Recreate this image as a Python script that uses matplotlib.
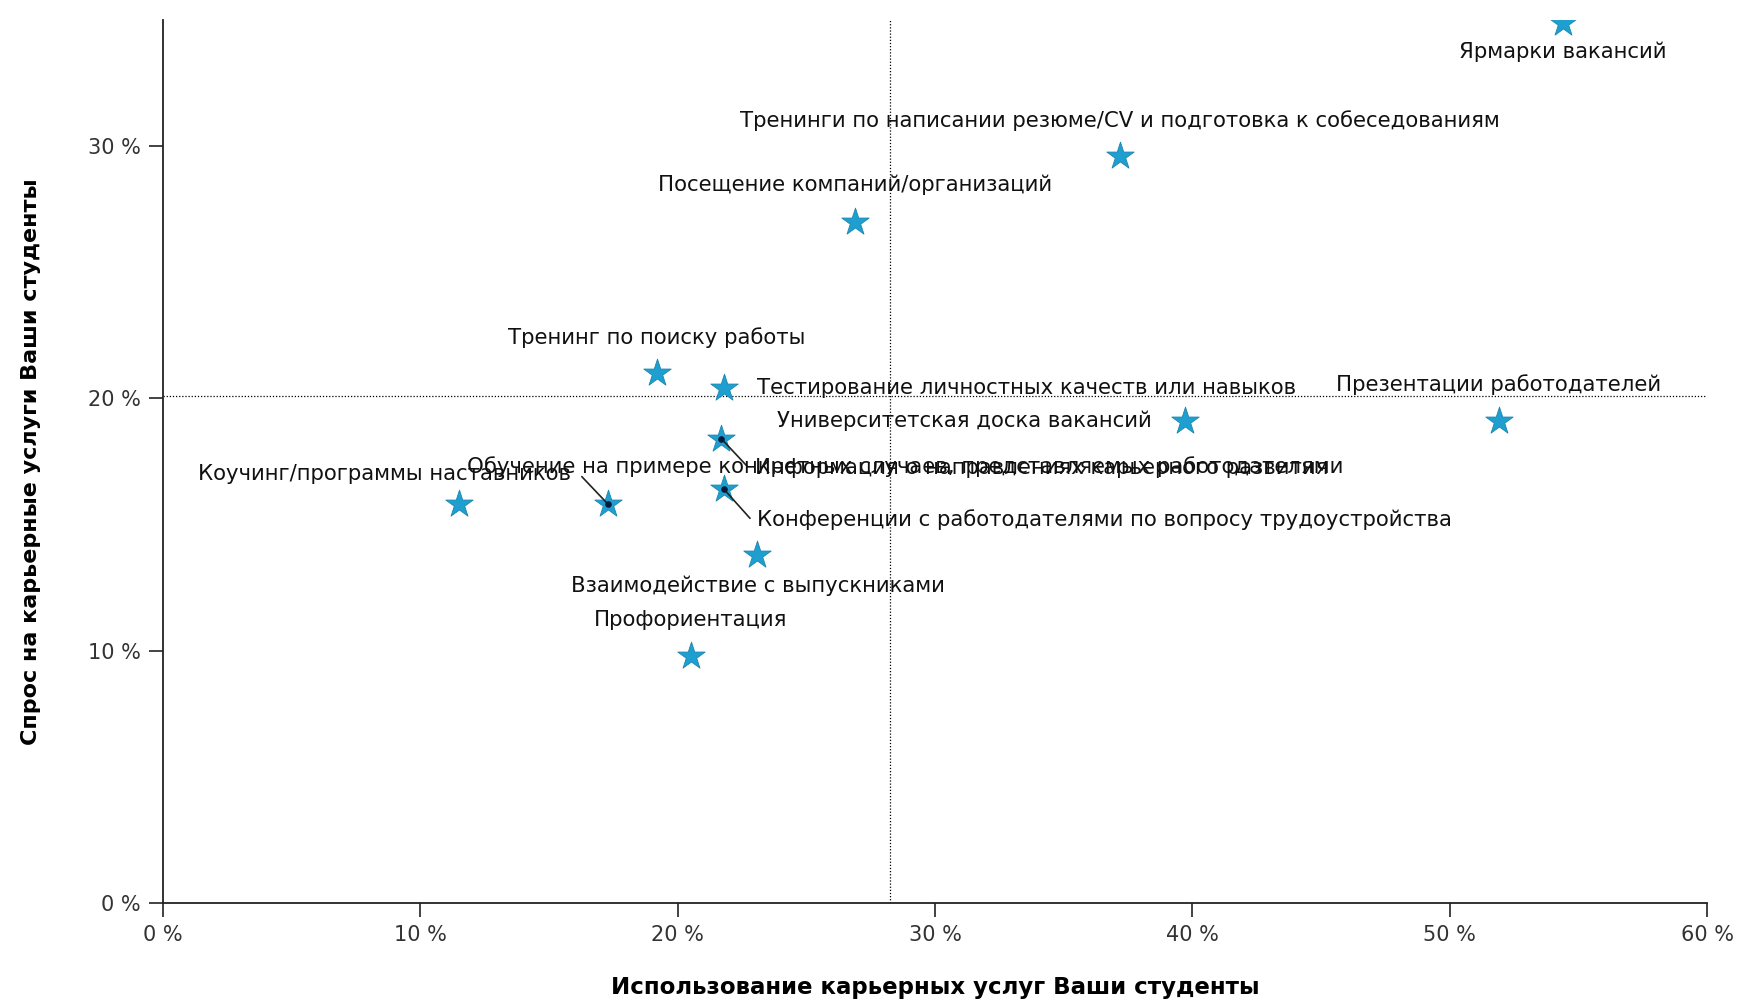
import numpy as np
import matplotlib
matplotlib.use("Agg")
import matplotlib.pyplot as plt
from matplotlib.ticker import FuncFormatter

# Career services: usage (x) vs. student demand (y), in percent
services = [
    "Ярмарки вакансий",
    "Тренинги по написании резюме/CV и подготовка к собеседованиям",
    "Посещение компаний/организаций",
    "Тренинг по поиску работы",
    "Тестирование личностных качеств или навыков",
    "Университетская доска вакансий",
    "Презентации работодателей",
    "Информация о направлениях карьерного развития",
    "Конференции с работодателями по вопросу трудоустройства",
    "Коучинг/программы наставников",
    "Обучение на примере конкретных случаев, представляемых работодателями",
    "Взаимодействие с выпускниками",
    "Профориентация",
]
usage = [54.4, 37.2, 26.9, 19.2, 21.8, 39.7, 51.9, 21.7, 21.8, 11.5, 17.3, 23.1, 20.5]
demand = [34.9, 29.6, 27.0, 21.0, 20.4, 19.1, 19.1, 18.4, 16.4, 15.8, 15.8, 13.8, 9.8]

x_ticks = [0, 10, 20, 30, 40, 50, 60]
y_ticks = [0, 10, 20, 30]

# label placement: (dx, dy) offset in points, horizontal alignment, leader line
label_layout = [
    ((0, -21), "center", False),
    ((0, 26), "center", False),
    ((0, 27), "center", False),
    ((0, 26), "center", False),
    ((24, 0), "left", False),
    ((-24, 0), "right", False),
    ((0, 26), "center", False),
    ((24, -21), "left", True),
    ((24, -22), "left", True),
    ((81, 22), "right", False),
    ((-102, 27), "left", True),
    ((0, -22), "center", False),
    ((0, 26), "center", False),
]

fig = plt.figure(figsize=(17.38, 10.05), dpi=100)
ax = fig.add_axes([0.0938, 0.1015, 0.8884, 0.8785])

star_color = "#1e9fd0"
ax.scatter(usage, demand, marker="*", s=430, color=star_color,
           edgecolors="#1a86b0", linewidths=0.6, zorder=3)

# mean usage / mean demand reference lines
ax.axvline(np.mean(usage), color="black", lw=0.9, ls=(0, (1, 1.5)), zorder=1)
ax.axhline(np.mean(demand), color="black", lw=0.9, ls=(0, (1, 1.5)), zorder=1)

label_font = dict(family=["DejaVu Sans"], fontsize=15.3, color="#111111")
for name, x, y, ((dx, dy), ha, leader) in zip(services, usage, demand, label_layout):
    ax.annotate(name, (x, y), xytext=(dx, dy), textcoords="offset points",
                ha=ha, va="center", zorder=4, **label_font)
    if leader:
        # short connector from the star toward its label
        lx = dx * 0.78 if dx > 0 else -19
        ly = dy * 0.95 if dy < 0 else 20
        ax.annotate("", (x, y), xytext=(lx, ly), textcoords="offset points",
                    arrowprops=dict(arrowstyle="-", color="#222222", lw=1.2,
                                    shrinkA=0, shrinkB=0), zorder=4)
        ax.scatter([x], [y], s=14, color="#0a1a3a", zorder=5)

ax.set_xlim(0, 60)
ax.set_ylim(0, 35)
ax.set_xticks(x_ticks)
ax.set_yticks(y_ticks)
pct = FuncFormatter(lambda v, p: f"{v:.0f} %")
ax.xaxis.set_major_formatter(pct)
ax.yaxis.set_major_formatter(pct)

for s in ("top", "right"):
    ax.spines[s].set_visible(False)
for s in ("left", "bottom"):
    ax.spines[s].set_linewidth(1.3)
    ax.spines[s].set_color("#222222")

ax.tick_params(axis="both", direction="out", length=10, width=1.2,
               color="#222222", labelsize=15, labelcolor="#333333", pad=6)

ax.set_xlabel("Использование карьерных услуг Ваши студенты",
              fontsize=16.5, fontweight="bold", labelpad=22)
ax.set_ylabel("Спрос на карьерные услуги Ваши студенты",
              fontsize=16, fontweight="bold", labelpad=34)

fig.savefig("out.png", dpi=100, facecolor="white")
